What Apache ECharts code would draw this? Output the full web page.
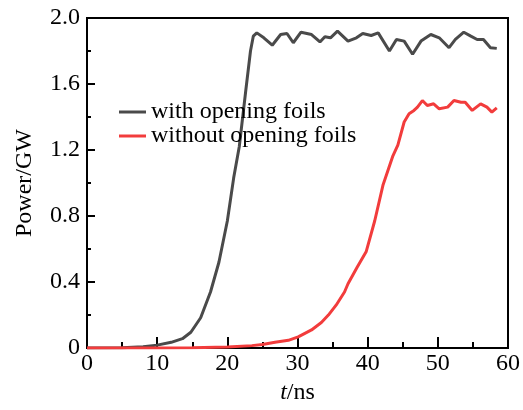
<!DOCTYPE html>
<html>
<head>
<meta charset="utf-8">
<script src="https://cdn.jsdelivr.net/npm/echarts@6/dist/echarts.min.js"></script>
<style>
  html, body { margin: 0; padding: 0; background: #fff; }
  #main { width: 523px; height: 410px; }
</style>
</head>
<body>
<div id="main"></div>
<script>
// 数据
var withT = [0, 5, 8, 10, 12, 13.6, 14.8, 16.2, 17.6, 18.8, 20.0, 20.9, 21.7, 22.6, 23.3, 23.7, 24.2, 25.2, 26.4, 27.6, 28.5, 29.4, 30.5, 32.0, 33.2, 33.9, 34.7, 35.7, 37.2, 38.4, 39.3, 40.5, 41.5, 43.1, 44.1, 45.2, 46.4, 47.6, 49.0, 50.2, 51.6, 52.5, 53.7, 54.7, 55.6, 56.5, 57.5, 58.4];
var withP = [0, 0.002, 0.008, 0.018, 0.035, 0.057, 0.096, 0.184, 0.34, 0.52, 0.77, 1.03, 1.22, 1.55, 1.80, 1.89, 1.91, 1.88, 1.835, 1.90, 1.906, 1.85, 1.914, 1.90, 1.855, 1.886, 1.88, 1.92, 1.86, 1.88, 1.906, 1.894, 1.91, 1.80, 1.87, 1.86, 1.78, 1.86, 1.90, 1.88, 1.82, 1.87, 1.914, 1.89, 1.87, 1.87, 1.82, 1.816];

var withoutT = [0, 10, 15, 20, 23.5, 25, 26.8, 28.7, 30.1, 32.0, 33.4, 34.4, 35.5, 36.7, 37.2, 38.5, 39.8, 41.0, 42.2, 43.6, 44.3, 45.2, 45.9, 46.6, 47.1, 47.8, 48.5, 49.4, 50.2, 51.4, 52.3, 53.3, 53.9, 54.9, 56.1, 57.0, 57.7, 58.4];
var withoutP = [0, 0.001, 0.002, 0.006, 0.015, 0.022, 0.035, 0.047, 0.068, 0.11, 0.155, 0.20, 0.26, 0.34, 0.39, 0.49, 0.586, 0.77, 0.99, 1.165, 1.23, 1.37, 1.42, 1.44, 1.46, 1.50, 1.47, 1.48, 1.45, 1.46, 1.50, 1.49, 1.49, 1.44, 1.48, 1.46, 1.43, 1.455];

var seriesNames = ['with opening foils', 'without opening foils'];
var colors = ['#4a4a4a', '#f23c3c'];

var pairs = function (xs, ys) {
  var out = [];
  for (var i = 0; i < xs.length; i++) {
    out.push([xs[i], ys[i]]);
  }
  return out;
};

var font = 'Liberation Serif';
var fs = 24;
var chart = echarts.init(document.getElementById('main'));

var option = {
  animation: false,
  color: colors,
  textStyle: { fontFamily: font, color: '#000' },
  grid: {
    left: 87, right: 12, top: 18, bottom: 52,
    show: true, borderColor: '#000', borderWidth: 2, backgroundColor: 'transparent'
  },
  legend: {
    orient: 'vertical',
    left: 114, top: 95,
    icon: 'rect',
    itemWidth: 27, itemHeight: 3,
    itemGap: 0,
    textStyle: { fontFamily: font, fontSize: fs, color: '#000' },
    data: seriesNames
  },
  xAxis: {
    type: 'value',
    min: 0, max: 60, interval: 10,
    name: '{i|t}/ns',
    nameLocation: 'middle',
    nameGap: 30,
    nameTextStyle: {
      fontFamily: font, fontSize: fs, color: '#000',
      rich: { i: { fontFamily: font, fontStyle: 'italic', fontSize: fs } }
    },
    axisLine: { show: true, lineStyle: { color: '#000', width: 2 } },
    axisTick: { show: true, inside: true, length: 11, lineStyle: { color: '#000', width: 2 } },
    minorTick: { show: true, splitNumber: 2, length: 6, lineStyle: { color: '#000', width: 2 } },
    axisLabel: { fontFamily: font, fontSize: fs, color: '#000', margin: 4 },
    splitLine: { show: false }
  },
  yAxis: {
    type: 'value',
    min: 0, max: 2, interval: 0.4,
    name: 'Power/GW',
    nameLocation: 'middle',
    nameGap: 50,
    nameTextStyle: { fontFamily: font, fontSize: fs, color: '#000' },
    axisLine: { show: true, lineStyle: { color: '#000', width: 2 } },
    axisTick: { show: true, inside: true, length: 8, lineStyle: { color: '#000', width: 2 } },
    minorTick: { show: true, splitNumber: 2, length: 4, lineStyle: { color: '#000', width: 2 } },
    axisLabel: {
      fontFamily: font, fontSize: fs, color: '#000', margin: 7,
      formatter: function (v) { return v === 0 ? '0' : v.toFixed(1); }
    },
    splitLine: { show: false }
  },
  series: [
    {
      name: seriesNames[0],
      type: 'line',
      symbol: 'none',
      lineStyle: { width: 3, color: colors[0] },
      data: pairs(withT, withP)
    },
    {
      name: seriesNames[1],
      type: 'line',
      symbol: 'none',
      lineStyle: { width: 3, color: colors[1] },
      data: pairs(withoutT, withoutP)
    }
  ]
};
chart.setOption(option);
</script>
</body>
</html>
